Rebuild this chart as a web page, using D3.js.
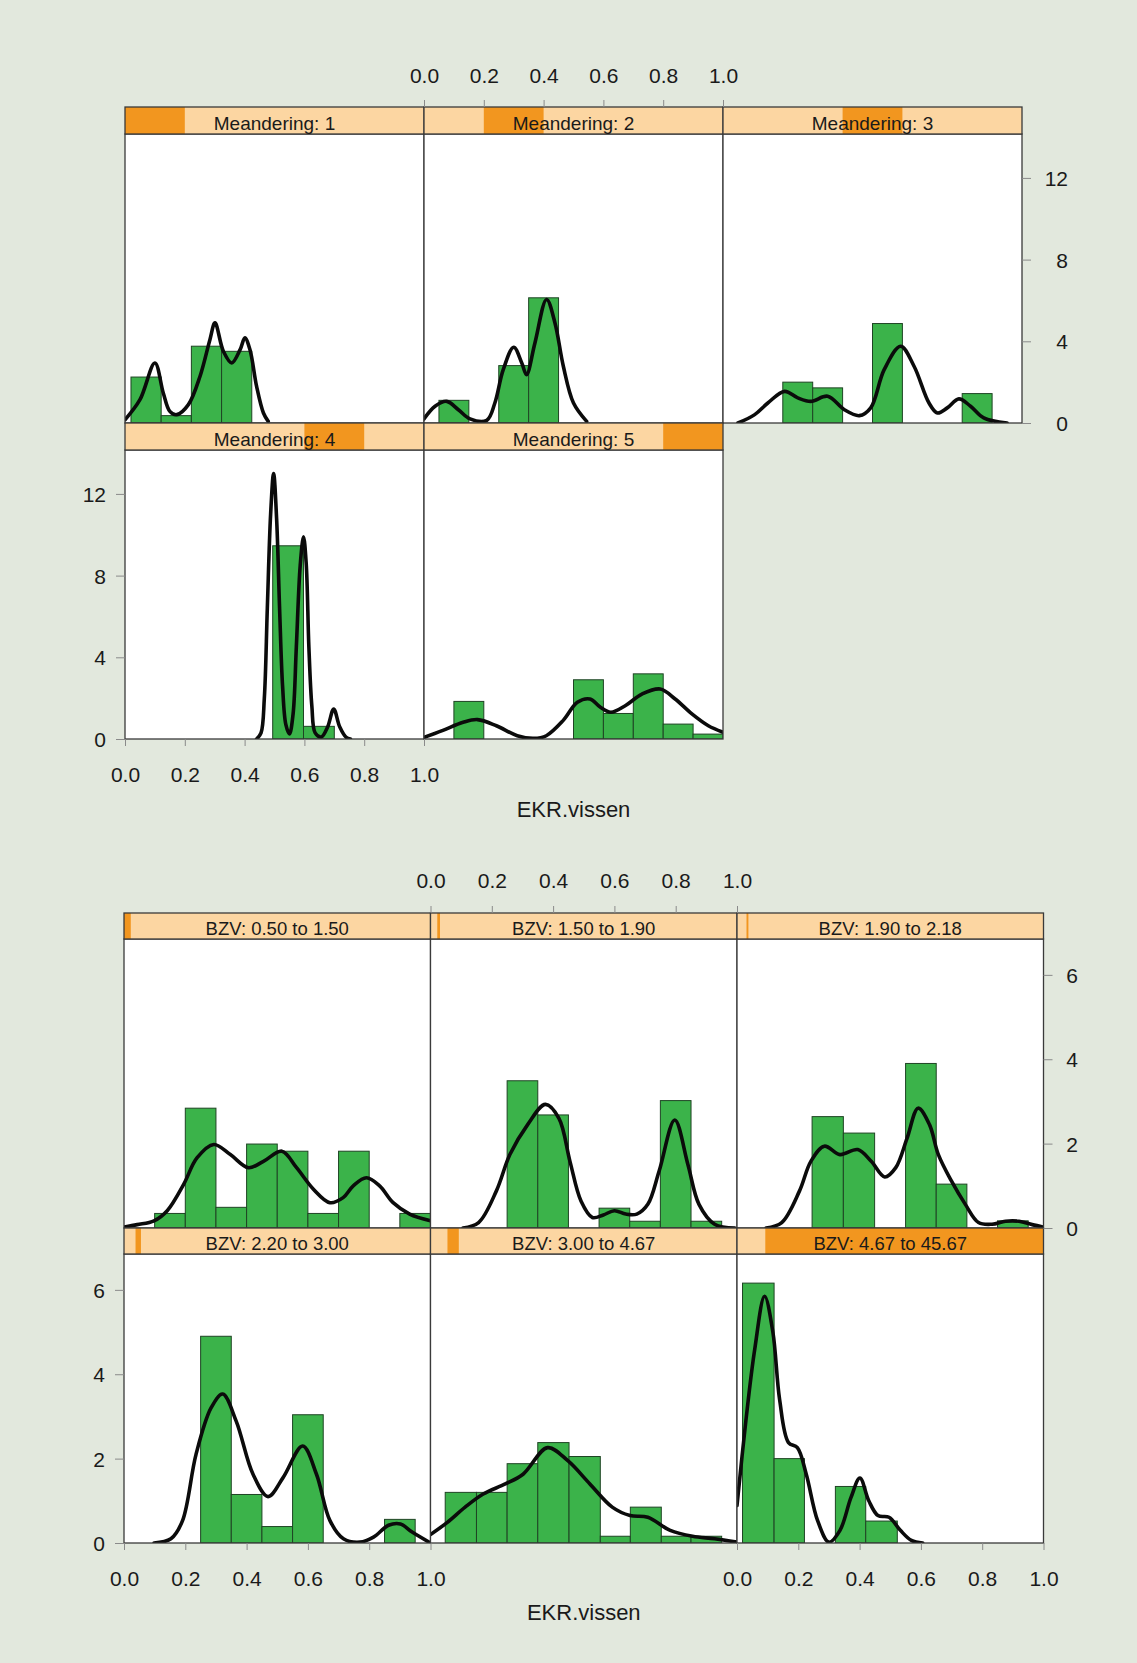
<!DOCTYPE html>
<html>
<head>
<meta charset="utf-8">
<script src="https://cdn.jsdelivr.net/npm/d3@7"></script>
<style>
  html, body { margin: 0; padding: 0; background: #e2e8dd; }
  svg { display: block; }
  text { font-family: "Liberation Sans", Arial, sans-serif; fill: #1a1a1a; }
</style>
</head>
<body>
<svg id="chart" width="1137" height="1663"></svg>
<script>
// ---------- shared axis values ----------
const xTicks = [0, 0.2, 0.4, 0.6, 0.8, 1.0];
const meanderYTicks = [0, 4, 8, 12];
const bzvYTicks = [0, 2, 4, 6];
const xLabel = "EKR.vissen";

// ---------- EKR.vissen by Meandering (factor, 5 levels) ----------
const meanderLevels = [1, 2, 3, 4, 5];
const meanderBreaks = [
  [0.02, 0.121, 0.222, 0.323, 0.424],
  [0.05, 0.15, 0.25, 0.35, 0.45],
  [0.2, 0.3, 0.4, 0.5, 0.6, 0.7, 0.8, 0.9],
  [0.494, 0.597, 0.7],
  [0.1, 0.2, 0.3, 0.4, 0.5, 0.6, 0.7, 0.8, 0.9, 1.0]
];
const meanderDensity = [
  [2.25, 0.36, 3.76, 3.51],
  [1.11, 0, 2.81, 6.13],
  [2.0, 1.72, 0, 4.87, 0, 0, 1.44],
  [9.46, 0.62],
  [1.84, 0, 0, 0, 2.9, 1.25, 3.19, 0.73, 0.24]
];
const meanderCurveX = [
  [0, 0.05, 0.10, 0.128, 0.15, 0.173, 0.212, 0.251, 0.284, 0.301, 0.329, 0.357, 0.385, 0.401, 0.418, 0.44, 0.463, 0.479],
  [0, 0.037, 0.076, 0.115, 0.154, 0.21, 0.237, 0.265, 0.30, 0.327, 0.343, 0.371, 0.41, 0.438, 0.466, 0.5, 0.544],
  [0.05, 0.106, 0.15, 0.206, 0.25, 0.294, 0.35, 0.406, 0.456, 0.494, 0.539, 0.594, 0.639, 0.689, 0.717, 0.75, 0.789, 0.828, 0.872, 0.95],
  [0.44, 0.455, 0.466, 0.476, 0.487, 0.497, 0.507, 0.517, 0.527, 0.538, 0.55, 0.562, 0.573, 0.586, 0.597, 0.606, 0.615, 0.625, 0.636, 0.657, 0.678, 0.698, 0.718, 0.74, 0.754],
  [0, 0.061, 0.131, 0.179, 0.242, 0.312, 0.367, 0.409, 0.465, 0.513, 0.555, 0.59, 0.625, 0.673, 0.729, 0.79, 0.84, 0.896, 0.951, 1.0]
];
const meanderCurveY = [
  [0.16, 1.14, 2.94, 1.47, 0.57, 0.41, 0.9, 2.29, 4.08, 4.9, 3.51, 2.94, 3.59, 4.17, 3.59, 1.8, 0.49, 0.08],
  [0.2, 0.82, 1.06, 0.65, 0.2, 0.13, 0.98, 2.61, 3.71, 2.94, 2.37, 3.92, 6.05, 4.9, 2.78, 0.98, 0.08],
  [0, 0.41, 0.98, 1.55, 1.23, 1.06, 1.31, 0.65, 0.36, 0.74, 2.61, 3.76, 2.78, 0.98, 0.49, 0.74, 1.18, 0.82, 0.25, 0],
  [0, 0.3, 2.0, 6.4, 11.0, 13.0, 10.8, 6.4, 2.6, 0.7, 0.25, 1.2, 4.5, 8.5, 9.9, 8.6, 4.5, 1.6, 0.3, 0.1, 0.6, 1.47, 0.6, 0.08, 0],
  [0.08, 0.41, 0.82, 0.95, 0.65, 0.16, 0.03, 0.16, 0.9, 1.8, 1.96, 1.55, 1.31, 1.63, 2.2, 2.45, 1.96, 1.23, 0.65, 0.33]
];

// ---------- EKR.vissen by BZV (shingle, 6 intervals) ----------
const bzvLow = [0.50, 1.50, 1.90, 2.20, 3.00, 4.67];
const bzvHigh = [1.50, 1.90, 2.18, 3.00, 4.67, 45.67];
const bzvBreaks = [
  [0.1, 0.2, 0.3, 0.4, 0.5, 0.6, 0.7, 0.8, 0.9, 1.0],
  [0.25, 0.35, 0.45, 0.55, 0.65, 0.75, 0.85, 0.95],
  [0.245, 0.347, 0.449, 0.55, 0.65, 0.75, 0.85, 0.95],
  [0.25, 0.35, 0.45, 0.55, 0.65, 0.75, 0.85, 0.95],
  [0.048, 0.15, 0.25, 0.35, 0.452, 0.554, 0.652, 0.753, 0.85, 0.95],
  [0.018, 0.121, 0.22, 0.321, 0.42, 0.523]
];
const bzvDensity = [
  [0.345, 2.84, 0.49, 1.99, 1.82, 0.345, 1.82, 0, 0.345],
  [3.49, 2.68, 0, 0.47, 0.16, 3.02, 0.16],
  [2.64, 2.25, 0, 3.9, 1.04, 0, 0.17],
  [4.9, 1.15, 0.39, 3.04, 0, 0, 0.56],
  [1.2, 1.2, 1.88, 2.38, 2.05, 0.16, 0.85, 0.16, 0.16],
  [6.16, 2.0, 0, 1.34, 0.52]
];
const bzvCurveX = [
  [0, 0.043, 0.098, 0.141, 0.195, 0.238, 0.293, 0.347, 0.406, 0.455, 0.515, 0.563, 0.618, 0.672, 0.715, 0.748, 0.791, 0.834, 0.878, 0.932, 1.0],
  [0.106, 0.157, 0.215, 0.259, 0.317, 0.375, 0.419, 0.455, 0.491, 0.528, 0.564, 0.6, 0.637, 0.673, 0.709, 0.746, 0.797, 0.84, 0.876, 0.927, 0.993],
  [0.095, 0.146, 0.204, 0.241, 0.285, 0.336, 0.394, 0.438, 0.482, 0.518, 0.555, 0.591, 0.628, 0.657, 0.7, 0.745, 0.788, 0.832, 0.876, 0.92, 0.963, 1.0],
  [0.098, 0.153, 0.191, 0.235, 0.284, 0.322, 0.366, 0.421, 0.47, 0.519, 0.583, 0.628, 0.672, 0.716, 0.77, 0.814, 0.863, 0.902, 0.94, 1.0],
  [0, 0.055, 0.113, 0.172, 0.244, 0.302, 0.382, 0.448, 0.52, 0.593, 0.651, 0.709, 0.782, 0.855, 0.927, 1.0],
  [0, 0.029, 0.058, 0.09, 0.117, 0.139, 0.168, 0.197, 0.226, 0.263, 0.3, 0.336, 0.372, 0.401, 0.43, 0.46, 0.496, 0.533, 0.569, 0.606]
];
const bzvCurveY = [
  [0.02, 0.08, 0.17, 0.41, 1.04, 1.66, 1.98, 1.74, 1.43, 1.58, 1.82, 1.43, 0.92, 0.6, 0.72, 1.0, 1.19, 1.0, 0.6, 0.33, 0.17],
  [0, 0.13, 0.88, 1.74, 2.45, 2.93, 2.6, 1.58, 0.64, 0.25, 0.31, 0.41, 0.33, 0.33, 0.56, 1.35, 2.56, 1.5, 0.56, 0.09, 0],
  [0, 0.13, 0.88, 1.58, 1.94, 1.74, 1.86, 1.58, 1.21, 1.43, 2.13, 2.84, 2.45, 1.74, 1.11, 0.56, 0.13, 0.09, 0.16, 0.16, 0.08, 0.02],
  [0, 0.1, 0.53, 2.1, 3.2, 3.53, 2.89, 1.63, 1.1, 1.55, 2.3, 1.63, 0.53, 0.1, 0.02, 0.14, 0.42, 0.45, 0.26, 0],
  [0.2, 0.49, 0.85, 1.16, 1.4, 1.63, 2.26, 1.95, 1.4, 0.85, 0.65, 0.61, 0.3, 0.16, 0.1, 0.02],
  [0.89, 2.9, 4.6, 5.85, 5.0, 3.4, 2.38, 2.26, 1.63, 0.53, 0.02, 0.3, 1.08, 1.54, 1.0, 0.65, 0.61, 0.3, 0.06, 0]
];

// ---------- drawing ----------
const svg = d3.select("#chart");
const defs = svg.append("defs");
const fmt1 = d3.format(".1f");
const fmtInt = d3.format("d");

const COL = {
  panel: "#ffffff",
  frame: "#3a3a3a",
  stripBg: "#fcd6a2",
  stripFg: "#f2961f",
  bar: "#3bb34a",
  barEdge: "#1f4424",
  curve: "#0b0b0b",
  tick: "#8a8a8a"
};

function styleAxis(g, size) {
  g.attr("font-family", "Liberation Sans, Arial, sans-serif").attr("font-size", size);
  g.select(".domain").remove();
  g.selectAll(".tick line").attr("stroke", COL.tick).attr("stroke-width", 1);
  g.selectAll(".tick text").attr("fill", "#1a1a1a");
}

function drawFigure(cfg) {
  const fig = svg.append("g");
  const x = d3.scaleLinear().domain([0, 1]).range([0, cfg.panelW]);
  const y = d3.scaleLinear().domain([0, cfg.yMax]).range([cfg.panelH, 0]);
  const line = d3.line()
    .x(d => x(d[0]))
    .y(d => y(d[1]))
    .curve(d3.curveCatmullRom.alpha(0.5));

  const panelPos = i => {
    const col = i % cfg.cols, row = Math.floor(i / cfg.cols);
    const px = cfg.left + col * cfg.panelW;
    const sy = cfg.top + row * (cfg.stripH + cfg.panelH);
    return { col, row, px, sy, py: sy + cfg.stripH };
  };

  cfg.labels.forEach((label, i) => {
    const p = panelPos(i);
    const clipId = `clip-${cfg.id}-${i}`;
    defs.append("clipPath").attr("id", clipId)
      .append("rect").attr("width", cfg.panelW).attr("height", cfg.panelH);

    const pg = fig.append("g").attr("transform", `translate(${p.px},${p.py})`);
    pg.append("rect").attr("width", cfg.panelW).attr("height", cfg.panelH).attr("fill", COL.panel);

    const plot = pg.append("g").attr("clip-path", `url(#${clipId})`);
    const br = cfg.breaks[i], dn = cfg.density[i];
    const bins = dn.map((d, j) => ({ x0: br[j], x1: br[j + 1], d })).filter(b => b.d > 0);
    plot.selectAll("rect.bar").data(bins).join("rect")
      .attr("class", "bar")
      .attr("x", b => x(b.x0))
      .attr("width", b => x(b.x1) - x(b.x0))
      .attr("y", b => y(b.d))
      .attr("height", b => y(0) - y(b.d))
      .attr("fill", COL.bar)
      .attr("stroke", COL.barEdge)
      .attr("stroke-width", 1);

    plot.append("path")
      .datum(d3.zip(cfg.curveX[i], cfg.curveY[i]))
      .attr("d", line)
      .attr("fill", "none")
      .attr("stroke", COL.curve)
      .attr("stroke-width", 3.6)
      .attr("stroke-linejoin", "round")
      .attr("stroke-linecap", "round");

    pg.append("rect").attr("width", cfg.panelW).attr("height", cfg.panelH)
      .attr("fill", "none").attr("stroke", COL.frame).attr("stroke-width", 1.3);

    // strip with the level / interval shaded
    const sg = fig.append("g").attr("transform", `translate(${p.px},${p.sy})`);
    sg.append("rect").attr("width", cfg.panelW).attr("height", cfg.stripH).attr("fill", COL.stripBg);
    const [a, b] = cfg.stripSpan(i);
    sg.append("rect").attr("x", a).attr("width", Math.max(1.5, b - a))
      .attr("height", cfg.stripH).attr("fill", COL.stripFg);
    sg.append("rect").attr("width", cfg.panelW).attr("height", cfg.stripH)
      .attr("fill", "none").attr("stroke", COL.frame).attr("stroke-width", 1.3);
    sg.append("text")
      .attr("x", cfg.panelW / 2).attr("y", cfg.stripH - 4)
      .attr("text-anchor", "middle").attr("font-size", cfg.stripFont)
      .text(label);
  });

  // x axes (alternating top / bottom)
  cfg.topAxisCols.forEach(c => {
    const px = cfg.left + c * cfg.panelW;
    const ax = fig.append("g").attr("transform", `translate(${px},${cfg.top})`)
      .call(d3.axisTop(x).tickValues(xTicks).tickFormat(fmt1).tickSize(7).tickPadding(3));
    styleAxis(ax, 21);
    ax.selectAll(".tick text").attr("y", cfg.topLabelY - cfg.top).attr("dy", 0);
  });
  cfg.bottomAxis.forEach(([c, r]) => {
    const px = cfg.left + c * cfg.panelW;
    const by = cfg.top + (r + 1) * (cfg.stripH + cfg.panelH);
    const ax = fig.append("g").attr("transform", `translate(${px},${by})`)
      .call(d3.axisBottom(x).tickValues(xTicks).tickFormat(fmt1).tickSize(7).tickPadding(3));
    styleAxis(ax, 21);
    ax.selectAll(".tick text").attr("y", cfg.bottomLabelY - by).attr("dy", 0);
  });

  // y axes (right on first row, left on second row)
  const rightX = cfg.left + cfg.cols * cfg.panelW;
  const row0Top = cfg.top + cfg.stripH;
  const ar = fig.append("g").attr("transform", `translate(${rightX},${row0Top})`)
    .call(d3.axisRight(y).tickValues(cfg.yTicks).tickFormat(fmtInt).tickSize(9).tickPadding(3));
  styleAxis(ar, 21);
  ar.selectAll(".tick text").attr("x", cfg.rightLabelX - rightX).attr("text-anchor", "end").attr("dy", "0.36em");

  const row1Top = cfg.top + 2 * cfg.stripH + cfg.panelH;
  const al = fig.append("g").attr("transform", `translate(${cfg.left},${row1Top})`)
    .call(d3.axisLeft(y).tickValues(cfg.yTicks).tickFormat(fmtInt).tickSize(9).tickPadding(3));
  styleAxis(al, 21);
  al.selectAll(".tick text").attr("x", cfg.leftLabelX - cfg.left).attr("text-anchor", "end").attr("dy", "0.36em");

  fig.append("text")
    .attr("x", cfg.left + cfg.cols * cfg.panelW / 2)
    .attr("y", cfg.xlabY)
    .attr("text-anchor", "middle")
    .attr("font-size", 22)
    .text(xLabel);
}

// Meandering figure
const meanderStrip = d3.scaleLinear().domain([0, meanderLevels.length]).range([0, 299]);
drawFigure({
  id: "meander",
  left: 125, top: 107, panelW: 299, panelH: 289, stripH: 27, cols: 3,
  yMax: 14.15, yTicks: meanderYTicks,
  labels: meanderLevels.map(l => `Meandering: ${l}`),
  breaks: meanderBreaks, density: meanderDensity,
  curveX: meanderCurveX, curveY: meanderCurveY,
  stripSpan: i => [meanderStrip(i), meanderStrip(i + 1)],
  stripFont: 19,
  topAxisCols: [1], bottomAxis: [[0, 1]],
  topLabelY: 83, bottomLabelY: 782,
  rightLabelX: 1068, leftLabelX: 106,
  xlabY: 817
});

// BZV figure
const bzvStrip = d3.scaleLinear().domain([d3.min(bzvLow), d3.max(bzvHigh)]).range([0, 306.5]);
drawFigure({
  id: "bzv",
  left: 124, top: 913, panelW: 306.5, panelH: 289, stripH: 26, cols: 3,
  yMax: 6.85, yTicks: bzvYTicks,
  labels: bzvLow.map((lo, i) => `BZV: ${lo.toFixed(2)} to ${bzvHigh[i].toFixed(2)}`),
  breaks: bzvBreaks, density: bzvDensity,
  curveX: bzvCurveX, curveY: bzvCurveY,
  stripSpan: i => [bzvStrip(bzvLow[i]), bzvStrip(bzvHigh[i])],
  stripFont: 18.5,
  topAxisCols: [1], bottomAxis: [[0, 1], [2, 1]],
  topLabelY: 888, bottomLabelY: 1586,
  rightLabelX: 1078, leftLabelX: 105,
  xlabY: 1620
});
</script>
</body>
</html>
